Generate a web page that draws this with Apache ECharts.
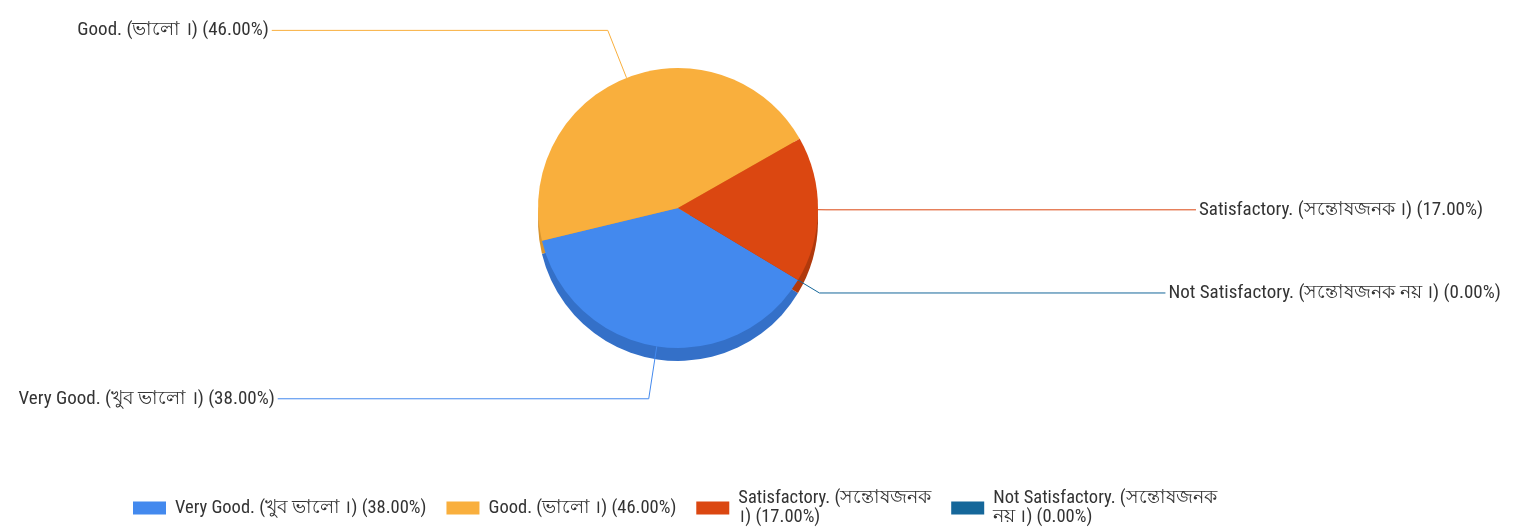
<!DOCTYPE html>
<html>
<head>
<meta charset="utf-8">
<script src="https://cdn.jsdelivr.net/npm/echarts@6/dist/echarts.min.js"></script>
<style>
html,body{margin:0;padding:0;background:#fff;}
#c{width:1518px;height:532px;}
</style>
</head>
<body>
<div id="c"></div>
<script>
// ---- data ----
const categories = [
  'Very Good. (খুব ভালো ।)',
  'Good. (ভালো ।)',
  'Satisfactory. (সন্তোষজনক ।)',
  'Not Satisfactory. (সন্তোষজনক নয় ।)'
];
const values = [38, 46, 17, 0];

// ---- styling ----
const colors = ['#4389EE', '#F9AF3D', '#DB4711', '#15679A'];
const sideColors = ['#3470C8', '#D9952F', '#B0390C', '#10557F'];
const labelLineLens = [
  { length: 53, length2: 371 },
  { length: 51, length2: 336 },
  { length: 8, length2: 370 },
  { length: 25, length2: 346 }
];
const legendWrap = [false, false, true, true];
const FONT = "'Liberation Sans Narrow', 'Arial Narrow', 'Roboto Condensed', sans-serif";

function pct(v) { return '(' + v.toFixed(2) + '%)'; }

const chart = echarts.init(document.getElementById('c'), null, { renderer: 'canvas' });

const mainData = categories.map((n, i) => ({
  name: n,
  value: values[i],
  itemStyle: { color: colors[i] },
  labelLine: labelLineLens[i]
}));
const sideData = categories.map((n, i) => ({
  name: n,
  value: values[i],
  itemStyle: { color: sideColors[i] }
}));

const option = {
  animation: false,
  backgroundColor: '#ffffff',
  legend: {
    orient: 'horizontal',
    left: 128,
    top: 484,
    icon: 'rect',
    itemWidth: 33,
    itemHeight: 13,
    itemGap: 20,
    selectedMode: false,
    textStyle: { fontFamily: FONT, fontSize: 18.5, color: '#333', padding: [0, 0, 0, 4], lineHeight: 19 },
    data: categories,
    formatter: function (name) {
      const i = categories.indexOf(name);
      let s = name + ' ' + pct(values[i]);
      if (legendWrap[i]) {
        const k = s.indexOf(' ', s.indexOf('('));
        s = s.slice(0, k) + '\n' + s.slice(k + 1);
      }
      return s;
    }
  },
  series: [
    {
      type: 'pie',
      name: 'main',
      z: 3,
      center: [678, 208],
      radius: 140,
      startAngle: 329,
      clockwise: true,
      avoidLabelOverlap: false,
      itemStyle: { borderWidth: 0 },
      emphasis: { disabled: true },
      label: {
        show: true,
        position: 'outside',
        alignTo: 'none',
        distanceToLabelLine: 3,
        color: '#333',
        fontFamily: FONT,
        fontSize: 19,
        overflow: 'none',
        formatter: function (p) { return p.name + ' ' + pct(p.value); }
      },
      labelLine: { show: true, smooth: false, lineStyle: { width: 1 } },
      data: mainData
    },
    {
      type: 'pie',
      name: 'depth',
      z: 1,
      silent: true,
      center: [678, 221],
      radius: 140,
      startAngle: 329,
      clockwise: true,
      itemStyle: { borderWidth: 0 },
      emphasis: { disabled: true },
      label: { show: false },
      labelLine: { show: false },
      data: sideData
    }
  ]
};
chart.setOption(option);
</script>
</body>
</html>
